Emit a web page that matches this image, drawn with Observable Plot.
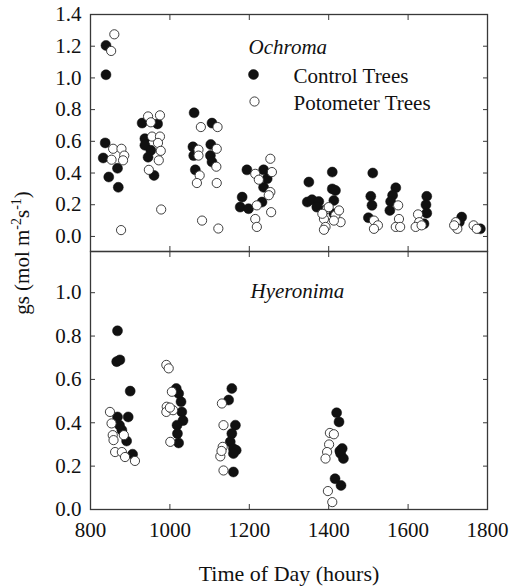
<!DOCTYPE html>
<html><head><meta charset="utf-8">
<script src="https://cdn.jsdelivr.net/npm/d3@7"></script>
<script src="https://cdn.jsdelivr.net/npm/@observablehq/plot@0.6"></script>
<style>
body{margin:0;background:#fff;overflow:hidden;}
#wrap{position:relative;width:512px;height:588px;font-family:"Liberation Serif","Times New Roman",serif;}
#wrap svg{position:absolute;left:0;overflow:visible;}
#wrap svg text{font-family:"Liberation Serif","Times New Roman",serif !important;}
</style></head><body><div id="wrap"></div>
<script>
// ---- Data ----
const xTicks = [800, 1000, 1200, 1400, 1600, 1800];
const yTicksTop = [0, 0.2, 0.4, 0.6, 0.8, 1.0, 1.2, 1.4];
const yTicksBottom = [0, 0.2, 0.4, 0.6, 0.8, 1.0];
const seriesNames = ["Control Trees", "Potometer Trees"];
const speciesNames = ["Ochroma", "Hyeronima"];

const ochromaControlTime = [839,839,837,832,846,868,870, 930,969,937,937,952,945,960, 1061,1106,1058,1060,1103,1102,1106,1064, 1194,1236,1245,1236,1182,1177,1198,1232, 1350,1346,1358,1375,1370,1409,1409,1417,1413,1413,1388, 1511,1506,1509,1500, 1569,1561,1556,1554, 1647,1645,1647,1640, 1735,1729,1782];
const ochromaControlGs   = [1.205,1.02,0.59,0.495,0.375,0.43,0.31, 0.715,0.71,0.617,0.575,0.543,0.50,0.385, 0.78,0.715,0.565,0.51,0.58,0.51,0.47,0.42, 0.42,0.42,0.364,0.31,0.248,0.185,0.175,0.217, 0.343,0.217,0.232,0.22,0.185,0.406,0.30,0.29,0.227,0.143,0.164, 0.40,0.253,0.196,0.118, 0.307,0.26,0.22,0.164, 0.253,0.20,0.147,0.08, 0.122,0.09,0.048];

const ochromaPotoTime = [860,852,857,878,853,885,882,877, 945,975,952,955,975,970,977,972,947,978, 1078,1120,1072,1072,1118,1117,1075,1068,1118,1081,1122, 1215,1224,1253,1257,1253,1249,1219,1215,1219,1255, 1396,1388,1392,1388,1417,1426,1430,1413,1400,1384, 1514,1524,1514, 1575,1577,1569,1580, 1625,1628,1619,1634, 1720,1724,1716,1765,1773];
const ochromaPotoGs   = [1.275,1.17,0.553,0.553,0.484,0.51,0.48,0.04, 0.757,0.764,0.72,0.63,0.63,0.59,0.54,0.48,0.42,0.17, 0.69,0.69,0.547,0.51,0.553,0.44,0.385,0.337,0.337,0.10,0.05, 0.395,0.358,0.49,0.406,0.28,0.26,0.196,0.11,0.06,0.153, 0.175,0.11,0.06,0.042,0.133,0.164,0.09,0.10,0.185,0.143, 0.10,0.07,0.048, 0.196,0.11,0.06,0.06, 0.139,0.09,0.06,0.07, 0.09,0.048,0.07,0.07,0.048];

const hyeronimaControlTime = [868,866,874,900,868,873,879,895,891,906, 1016,1022,1028,1030,1033,1018,1019,1022, 1156,1148,1165,1156,1152,1160,1167,1160,1160, 1420,1426,1434,1430,1437,1428,1416,1431];
const hyeronimaControlGs   = [0.824,0.682,0.69,0.546,0.427,0.389,0.366,0.427,0.316,0.255, 0.558,0.535,0.497,0.45,0.41,0.389,0.35,0.307, 0.558,0.505,0.389,0.35,0.312,0.28,0.273,0.258,0.173, 0.446,0.404,0.281,0.258,0.235,0.27,0.142,0.111];

const hyeronimaPotoTime = [849,853,856,858,862,879,887,912,884, 991,997,1005,992,991,1008,1001,1000, 1131,1135,1127,1133,1135,1130, 1403,1413,1401,1396,1392,1398,1409];
const hyeronimaPotoGs   = [0.45,0.397,0.343,0.32,0.265,0.265,0.242,0.224,0.343, 0.667,0.651,0.543,0.474,0.45,0.458,0.312,0.47, 0.489,0.389,0.245,0.289,0.18,0.27, 0.353,0.347,0.30,0.265,0.235,0.085,0.034];

const pts = (t, g) => t.map((x, i) => ({time: x, gs: g[i]}));
const oc = pts(ochromaControlTime, ochromaControlGs);
const op = pts(ochromaPotoTime, ochromaPotoGs);
const hc = pts(hyeronimaControlTime, hyeronimaControlGs);
const hp = pts(hyeronimaPotoTime, hyeronimaPotoGs);

const FONT = '"Liberation Serif", "Times New Roman", serif';
const frameColor = "#383838";
const fmt = d3.format(".1f");
const blank = () => "";
const filledStyle = {r: 5, fill: "#111", stroke: "#111", strokeWidth: 0.5};
const openStyle = {r: 4.6, fill: "white", stroke: "#2a2a2a", strokeWidth: 0.9};
const baseStyle = {fontFamily: FONT, fontSize: "21px", color: "#111", background: "transparent", overflow: "visible"};

const topPlot = Plot.plot({
  width: 512, height: 252, marginTop: 14, marginBottom: 1, marginLeft: 90, marginRight: 25,
  x: {domain: [800, 1800]},
  y: {domain: [-0.095, 1.4]},
  style: baseStyle,
  marks: [
    Plot.axisY(yTicksTop, {anchor: "left", tickSize: -5, tickPadding: 14, tickFormat: fmt, label: null, stroke: frameColor, fontSize: 21}),
    Plot.axisY(yTicksTop, {anchor: "right", tickSize: -5, tickFormat: blank, label: null, stroke: frameColor}),
    Plot.axisX(xTicks, {anchor: "bottom", tickSize: -5, tickFormat: blank, label: null, stroke: frameColor}),
    Plot.axisX(xTicks, {anchor: "top", tickSize: -5, tickFormat: blank, label: null, stroke: frameColor}),
    Plot.frame({stroke: frameColor, strokeWidth: 1.3}),
    Plot.dot(oc, {x: "time", y: "gs", ...filledStyle}),
    Plot.dot(op, {x: "time", y: "gs", ...openStyle}),
    Plot.text([speciesNames[0]], {text: d => d, frameAnchor: "top-left", dx: 158, dy: 33, textAnchor: "start", lineAnchor: "middle", fontStyle: "italic", fontSize: 21}),
    Plot.dot([seriesNames[0]], {frameAnchor: "top-left", dx: 163, dy: 60, ...filledStyle}),
    Plot.dot([seriesNames[1]], {frameAnchor: "top-left", dx: 164, dy: 87, ...openStyle}),
    Plot.text([seriesNames[0]], {text: d => d, frameAnchor: "top-left", dx: 203, dy: 62, textAnchor: "start", lineAnchor: "middle", fontSize: 21}),
    Plot.text([seriesNames[1]], {text: d => d, frameAnchor: "top-left", dx: 203, dy: 89, textAnchor: "start", lineAnchor: "middle", fontSize: 21})
  ]
});

const bottomPlot = Plot.plot({
  width: 512, height: 338, marginTop: 1, marginBottom: 79, marginLeft: 90, marginRight: 25,
  x: {domain: [800, 1800]},
  y: {domain: [0, 1.19]},
  style: baseStyle,
  marks: [
    Plot.axisY(yTicksBottom, {anchor: "left", tickSize: -5, tickPadding: 14, tickFormat: fmt, label: null, stroke: frameColor, fontSize: 21}),
    Plot.axisY(yTicksBottom, {anchor: "right", tickSize: -5, tickFormat: blank, label: null, stroke: frameColor}),
    Plot.axisX(xTicks, {anchor: "bottom", tickSize: -5, tickPadding: 18, tickFormat: d => String(d), label: null, stroke: frameColor, fontSize: 21}),
    Plot.axisX(xTicks, {anchor: "top", tickSize: -5, tickFormat: blank, label: null, stroke: frameColor}),
    Plot.frame({stroke: frameColor, strokeWidth: 1.3}),
    Plot.dot(hc, {x: "time", y: "gs", ...filledStyle}),
    Plot.dot(hp, {x: "time", y: "gs", ...openStyle}),
    Plot.text([speciesNames[1]], {text: d => d, frameAnchor: "top-left", dx: 160, dy: 40, textAnchor: "start", lineAnchor: "middle", fontStyle: "italic", fontSize: 21}),
    Plot.text(["Time of Day (hours)"], {text: d => d, frameAnchor: "bottom", dy: 64, lineAnchor: "middle", fontSize: 22})
  ]
});

const wrap = document.getElementById("wrap");
topPlot.style.top = "0px";
bottomPlot.style.top = "250px";
for (const p of [topPlot, bottomPlot]) {
  p.style.fontFamily = FONT;
  d3.select(p).selectAll("text").attr("font-family", FONT).attr("fill", "#111");
  wrap.appendChild(p);
}

// Y axis title spanning both panels
const ysvg = d3.create("svg").attr("width", 60).attr("height", 588).style("top", "0px");
const t = ysvg.append("text")
  .attr("transform", "translate(29,253) rotate(-90)")
  .attr("text-anchor", "middle")
  .attr("font-family", FONT)
  .attr("font-size", 21)
  .attr("fill", "#111");
t.append("tspan").text("gs (mol m");
t.append("tspan").attr("font-size", 14).attr("dy", -8).text("-2");
t.append("tspan").attr("dy", 8).text("s");
t.append("tspan").attr("font-size", 14).attr("dy", -8).text("-1");
t.append("tspan").attr("dy", 8).text(")");
wrap.appendChild(ysvg.node());
</script>
</body></html>
